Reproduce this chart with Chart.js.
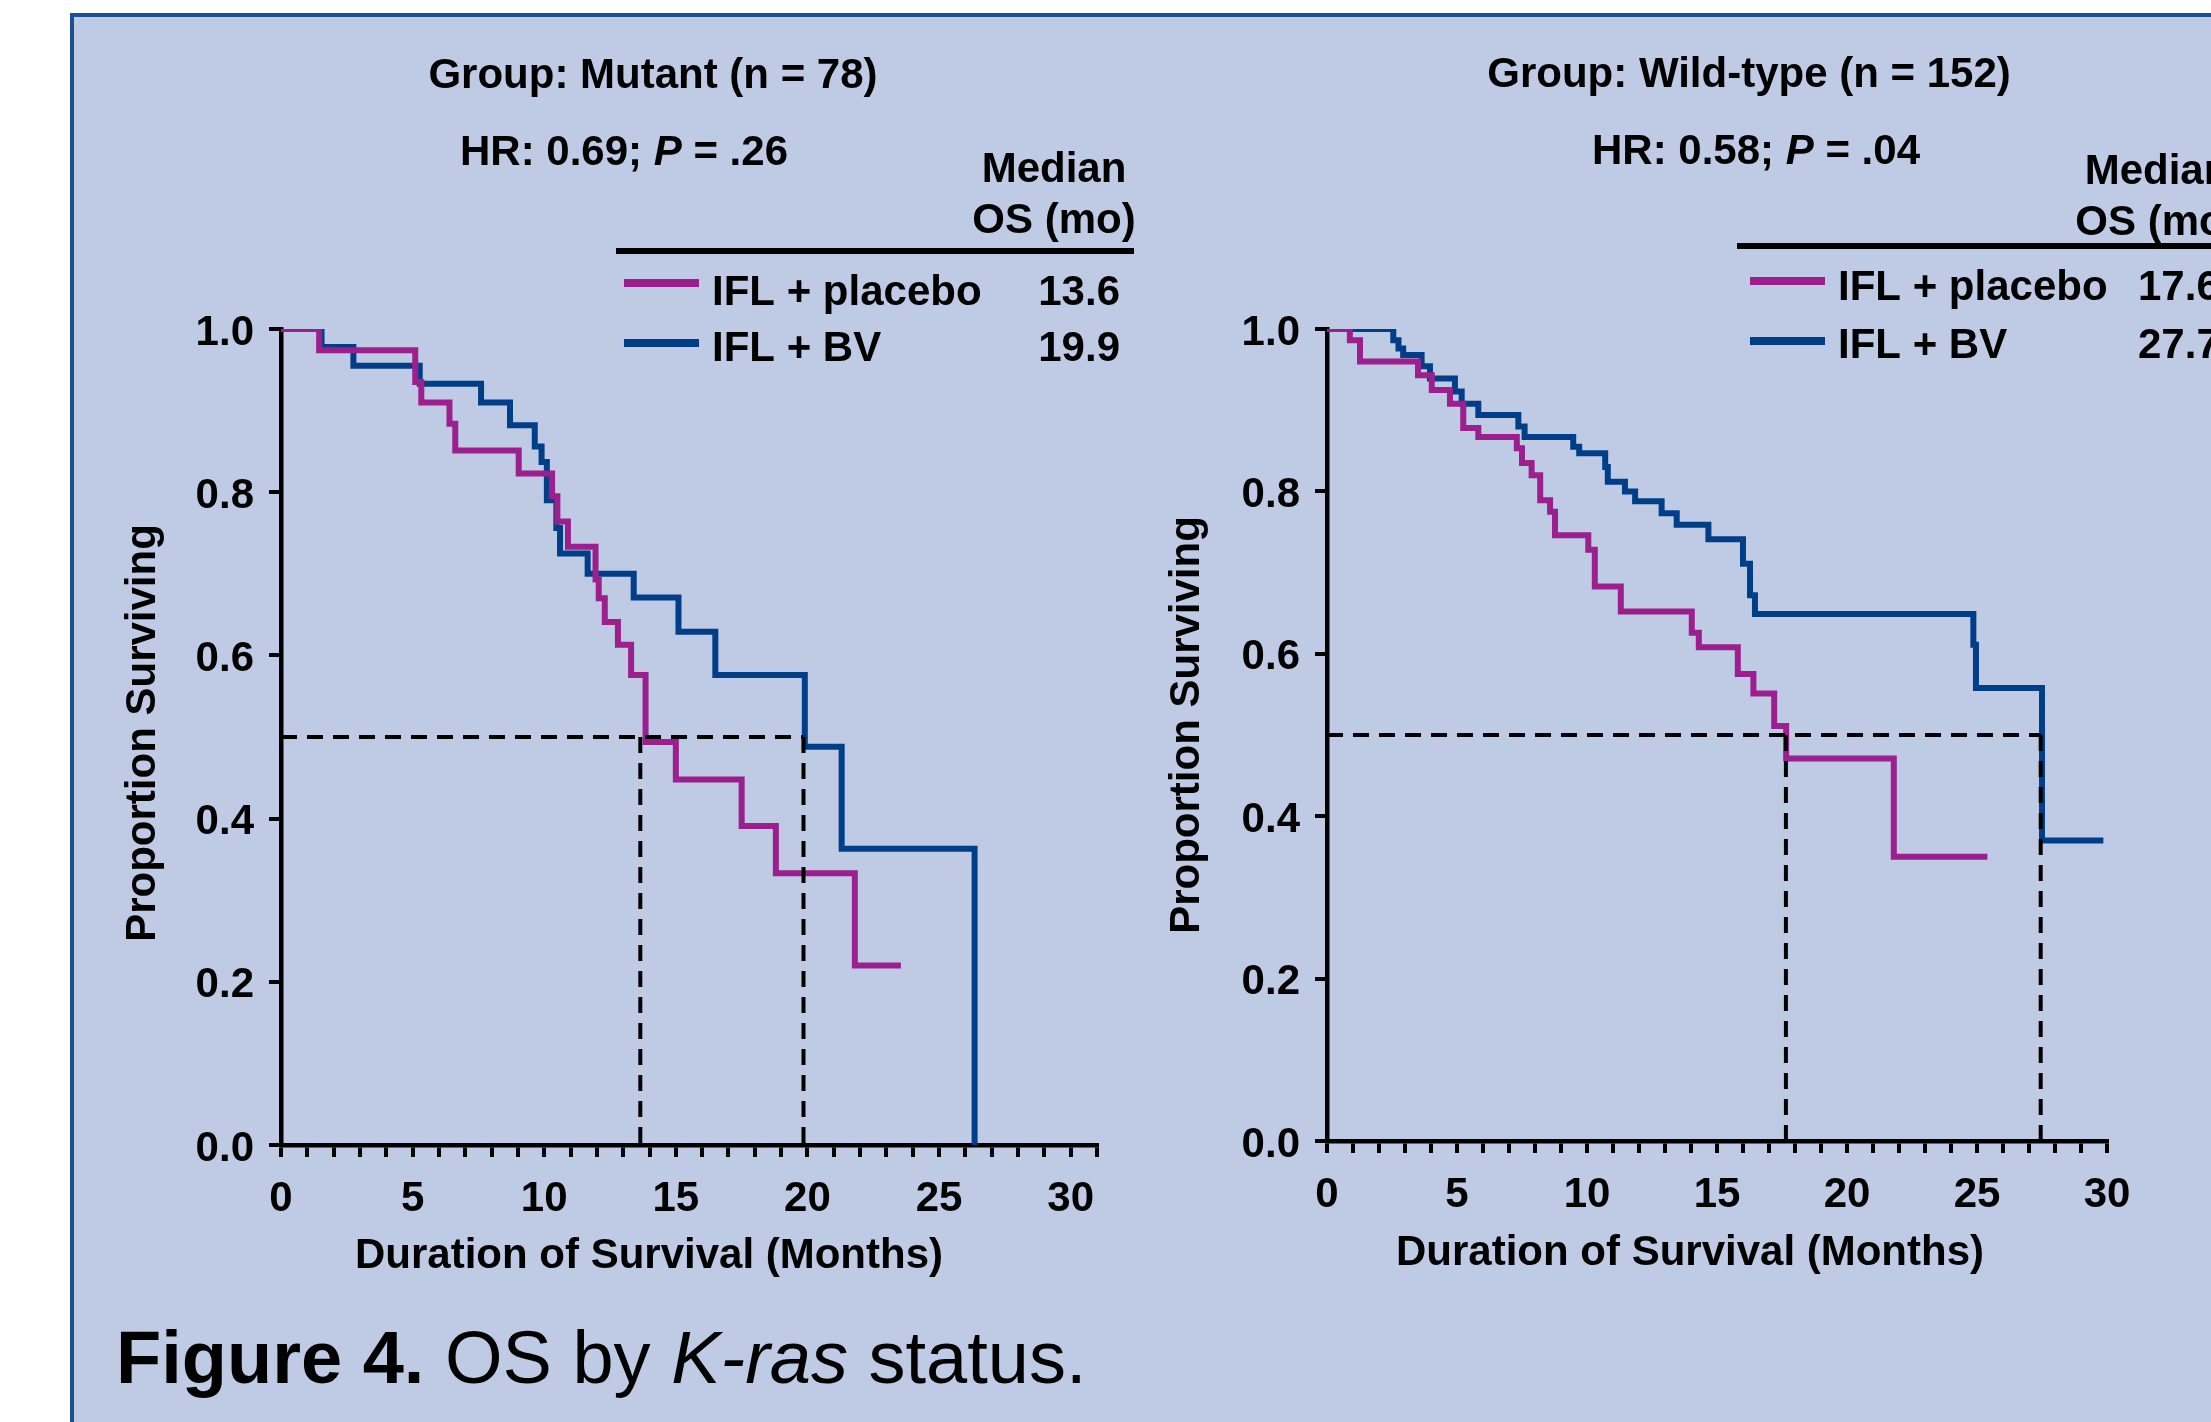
<!DOCTYPE html>
<html>
<head>
<meta charset="utf-8">
<title>OS by K-ras status</title>
<script src="https://cdn.jsdelivr.net/npm/chart.js@4.4.0/dist/chart.umd.min.js"></script>
<style>
  html, body { margin: 0; padding: 0; background: #fff; width: 2211px; height: 1422px; overflow: hidden; position: relative; }
  #panel { position: absolute; left: 70px; top: 13px; width: 2400px; height: 1500px; background: #bfcbe5; border: 4px solid #1d4f93; box-sizing: border-box; }
  canvas { position: absolute; top: 0; }
  #mutant { left: 0; }
  #wild { left: 1150px; }
</style>
</head>
<body>
<div id="panel"></div>
<canvas id="mutant" width="1150" height="1422"></canvas>
<canvas id="wild" width="1110" height="1422"></canvas>
<script>
// ---- data ----
// Group: Mutant (n = 78)
var mutantPlaceboMonths = [0, 1.45, 5.1, 5.33, 6.4, 6.62, 9.03, 10.3, 10.5, 10.9, 11.95, 12.07, 12.3, 12.8, 13.3, 13.85, 15.0, 17.5, 18.8, 21.8, 23.55];
var mutantPlaceboSurv   = [1.0, 0.974, 0.935, 0.910, 0.884, 0.851, 0.823, 0.795, 0.764, 0.733, 0.693, 0.670, 0.641, 0.613, 0.576, 0.494, 0.448, 0.391, 0.333, 0.220, 0.220];
var mutantBvMonths = [0, 1.54, 2.75, 5.27, 7.6, 8.7, 9.64, 9.9, 10.1, 10.46, 10.6, 11.65, 13.4, 15.1, 16.5, 19.9, 21.3, 26.35];
var mutantBvSurv   = [1.0, 0.978, 0.955, 0.933, 0.910, 0.882, 0.856, 0.837, 0.790, 0.756, 0.725, 0.700, 0.671, 0.629, 0.576, 0.488, 0.363, 0.0];
var mutantMedianLines = [13.65, 19.85];
var mutantMedianText = ['13.6', '19.9'];

// Group: Wild-type (n = 152)
var wildPlaceboMonths = [0, 0.88, 1.27, 3.5, 4.03, 4.73, 5.24, 5.82, 7.3, 7.5, 7.87, 8.2, 8.58, 8.77, 10.05, 10.3, 11.3, 14.03, 14.3, 15.8, 16.4, 17.2, 17.66, 21.8, 25.4];
var wildPlaceboSurv   = [1.0, 0.986, 0.960, 0.943, 0.925, 0.908, 0.878, 0.867, 0.853, 0.835, 0.820, 0.789, 0.775, 0.746, 0.728, 0.683, 0.652, 0.626, 0.608, 0.575, 0.551, 0.511, 0.471, 0.350, 0.350];
var wildBvMonths = [0, 2.55, 2.75, 2.93, 3.64, 3.96, 4.92, 5.18, 5.82, 7.36, 7.6, 9.47, 9.7, 10.7, 10.8, 11.46, 11.85, 12.87, 13.45, 14.67, 16.0, 16.27, 16.46, 24.86, 24.96, 27.5, 29.86];
var wildBvSurv   = [1.0, 0.986, 0.976, 0.968, 0.954, 0.939, 0.923, 0.908, 0.894, 0.880, 0.867, 0.855, 0.847, 0.830, 0.812, 0.800, 0.788, 0.773, 0.759, 0.741, 0.711, 0.672, 0.649, 0.611, 0.558, 0.370, 0.370];
var wildMedianLines = [17.65, 27.45];
var wildMedianText = ['17.6', '27.7'];

var seriesNames = ['IFL + placebo', 'IFL + BV'];

var FONT = '"Liberation Sans", Arial, Helvetica, sans-serif';
var B = 'bold 42px ' + FONT;
var BI = 'italic bold 42px ' + FONT;
var MAGENTA = '#9b1f8c';
var BLUE = '#003f88';

function toPoints(xs, ys) {
    return xs.map(function (x, i) { return { x: x, y: ys[i] }; });
}

function dashedPoints(xs) {
    var pts = [{ x: 0, y: 0.5 }, { x: Math.max.apply(null, xs), y: 0.5 }];
    xs.forEach(function (x) {
        pts.push({ x: x, y: null });
        pts.push({ x: x, y: 0.5 });
        pts.push({ x: x, y: 0 });
    });
    return pts;
}

function drawParts(ctx, parts, x, y, align) {
    var total = 0;
    parts.forEach(function (p) { ctx.font = p[1]; total += ctx.measureText(p[0]).width; });
    var cx = align === 'center' ? x - total / 2 : (align === 'right' ? x - total : x);
    ctx.textAlign = 'left';
    parts.forEach(function (p) {
        ctx.font = p[1];
        ctx.fillText(p[0], cx, y);
        cx += ctx.measureText(p[0]).width;
    });
}

function annotations(spec) {
    return {
        id: 'annot',
        afterDraw: function (chart) {
            var ctx = chart.ctx, ox = spec.offsetX;
            ctx.save();
            ctx.fillStyle = '#000';
            ctx.textBaseline = 'alphabetic';
            spec.texts.forEach(function (t) {
                drawParts(ctx, t.parts, t.x - ox, t.y, t.align);
            });
            // rule above the legend
            ctx.strokeStyle = '#000';
            ctx.lineWidth = 6;
            ctx.beginPath();
            ctx.moveTo(spec.rule[0] - ox, spec.rule[2]);
            ctx.lineTo(spec.rule[1] - ox, spec.rule[2]);
            ctx.stroke();
            // legend swatches
            ctx.lineWidth = 8;
            spec.swatches.forEach(function (s) {
                ctx.strokeStyle = s.color;
                ctx.beginPath();
                ctx.moveTo(s.x0 - ox, s.y);
                ctx.lineTo(s.x1 - ox, s.y);
                ctx.stroke();
            });
            // y axis title
            ctx.fillStyle = '#000';
            ctx.translate(spec.yTitle.x - ox, spec.yTitle.y);
            ctx.rotate(-Math.PI / 2);
            drawParts(ctx, [['Proportion Surviving', B]], 0, 0, 'center');
            ctx.restore();
        }
    };
}

function makeChart(id, placebo, bv, medians, xMax, geom, spec) {
    var axisFont = { family: FONT, size: 42, weight: 'bold' };
    var grid = { drawOnChartArea: false, drawTicks: true, tickLength: 12, color: '#000', lineWidth: 4 };
    var border = { display: true, color: '#000', width: 4.5 };
    return new Chart(document.getElementById(id).getContext('2d'), {
        type: 'line',
        data: {
            datasets: [{
                data: dashedPoints(medians),
                borderColor: '#000',
                borderWidth: 4,
                borderDash: [16, 10],
                pointRadius: 0,
                spanGaps: false
            }, {
                label: seriesNames[0],
                data: placebo,
                borderColor: MAGENTA,
                borderWidth: 6,
                stepped: true,
                pointRadius: 0
            }, {
                label: seriesNames[1],
                data: bv,
                borderColor: BLUE,
                borderWidth: 6,
                stepped: true,
                pointRadius: 0
            }]
        },
        options: {
            responsive: false,
            animation: false,
            layout: { padding: { top: geom.top, right: geom.right, left: 0, bottom: 0 } },
            plugins: { legend: { display: false }, tooltip: { enabled: false }, title: { display: false } },
            scales: {
                x: {
                    type: 'linear', min: 0, max: xMax,
                    afterFit: function (s) { s.height = geom.xAxisH; },
                    ticks: {
                        stepSize: 1, autoSkip: false, maxRotation: 0, padding: 17, color: '#000', font: axisFont,
                        callback: function (v) { return v % 5 === 0 ? String(v) : ''; }
                    },
                    grid: grid,
                    border: border
                },
                y: {
                    type: 'linear', min: 0, max: 1,
                    afterFit: function (s) { s.width = geom.yAxisW; },
                    ticks: {
                        stepSize: 0.2, padding: 15, labelOffset: 4, color: '#000', font: axisFont,
                        callback: function (v) { return v.toFixed(1); }
                    },
                    grid: grid,
                    border: border
                }
            }
        },
        plugins: [annotations(spec)]
    });
}

makeChart('mutant',
    toPoints(mutantPlaceboMonths, mutantPlaceboSurv),
    toPoints(mutantBvMonths, mutantBvSurv),
    mutantMedianLines, 31,
    { top: 329, right: 53, xAxisH: 1422 - 1145, yAxisW: 281 },
    {
        offsetX: 0,
        texts: [
            { parts: [['Group: Mutant (n = 78)', B]], x: 653, y: 88, align: 'center' },
            { parts: [['HR: 0.69; ', B], ['P', BI], [' = .26', B]], x: 624, y: 165, align: 'center' },
            { parts: [['Median', B]], x: 1054, y: 182, align: 'center' },
            { parts: [['OS (mo)', B]], x: 1054, y: 233, align: 'center' },
            { parts: [[seriesNames[0], B]], x: 712, y: 305, align: 'left' },
            { parts: [[mutantMedianText[0], B]], x: 1120, y: 305, align: 'right' },
            { parts: [[seriesNames[1], B]], x: 712, y: 361, align: 'left' },
            { parts: [[mutantMedianText[1], B]], x: 1120, y: 361, align: 'right' },
            { parts: [['Duration of Survival (Months)', B]], x: 649, y: 1268, align: 'center' },
            { parts: [['Figure 4.', 'bold 74px ' + FONT], [' OS by ', '74px ' + FONT], ['K-ras', 'italic 74px ' + FONT], [' status.', '74px ' + FONT]], x: 116, y: 1383, align: 'left' }
        ],
        rule: [616, 1134, 251],
        swatches: [{ color: MAGENTA, x0: 624, x1: 699, y: 283 }, { color: BLUE, x0: 624, x1: 699, y: 343 }],
        yTitle: { x: 155, y: 733 }
    });

makeChart('wild',
    toPoints(wildPlaceboMonths, wildPlaceboSurv),
    toPoints(wildBvMonths, wildBvSurv),
    wildMedianLines, 30,
    { top: 329, right: 153, xAxisH: 1422 - 1141, yAxisW: 177 },
    {
        offsetX: 1150,
        texts: [
            { parts: [['Group: Wild-type (n = 152)', B]], x: 1749, y: 87, align: 'center' },
            { parts: [['HR: 0.58; ', B], ['P', BI], [' = .04', B]], x: 1756, y: 164, align: 'center' },
            { parts: [['Median', B]], x: 2157, y: 184, align: 'center' },
            { parts: [['OS (mo)', B]], x: 2157, y: 235, align: 'center' },
            { parts: [[seriesNames[0], B]], x: 1838, y: 300, align: 'left' },
            { parts: [[wildMedianText[0], B]], x: 2138, y: 300, align: 'left' },
            { parts: [[seriesNames[1], B]], x: 1838, y: 358, align: 'left' },
            { parts: [[wildMedianText[1], B]], x: 2138, y: 358, align: 'left' },
            { parts: [['Duration of Survival (Months)', B]], x: 1690, y: 1265, align: 'center' }
        ],
        rule: [1737, 2300, 246],
        swatches: [{ color: MAGENTA, x0: 1750, x1: 1825, y: 281 }, { color: BLUE, x0: 1750, x1: 1825, y: 341 }],
        yTitle: { x: 1199, y: 725 }
    });
</script>
</body>
</html>
